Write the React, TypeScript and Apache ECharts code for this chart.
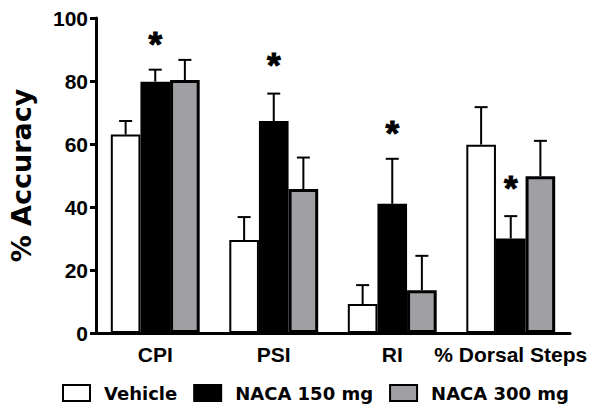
import React, { useEffect, useRef } from "react";
import * as echarts from "echarts";

const categories = ["CPI", "PSI", "RI", "% Dorsal Steps"];
const seriesNames = ["Vehicle", "NACA 150 mg", "NACA 300 mg"];
const vehicle = [63, 29.5, 9.2, 59.8];
const vehicleSem = [4.3, 7.3, 6.0, 11.9];
const naca150 = [79.8, 67.3, 41, 30];
const naca150Sem = [3.8, 8.7, 14.3, 7.1];
const naca300 = [80.3, 45.7, 13.6, 49.8];
const naca300Sem = [6.4, 10.0, 10.9, 11.2];
const starValues = [92, 85.3, 63.7, 46.3];
const yTicks = [0, 20, 40, 60, 80, 100];

const colors = ["#ffffff", "#000000", "#a0a0a4"];
const borderWidths = [2, 2, 3];

export default function App() {
  const ref = useRef<HTMLDivElement>(null);
  useEffect(() => {
    if (!ref.current) return;
    const chart = echarts.init(ref.current, null, { renderer: "svg" });
    const means = [vehicle, naca150, naca300];
    const sems = [vehicleSem, naca150Sem, naca300Sem];
    const barSeries = seriesNames.map((name, g) => ({
      name,
      type: "bar",
      data: means[g],
      barGap: "0%",
      barCategoryGap: "25%",
      itemStyle: { color: colors[g], borderColor: "#000", borderWidth: borderWidths[g] },
      z: 2,
    }));
    const errSeries = seriesNames.map((name, g) => ({
      type: "custom",
      name: name + " err",
      z: 3,
      data: means[g].map((m, i) => [i, m, m + sems[g][i]]),
      renderItem: (params: any, api: any) => {
        const band = api.size([1, 0])[0];
        const bw = (band * 0.75) / 3;
        const off = (g - 1) * bw;
        const p0 = api.coord([api.value(0), api.value(1)]);
        const p1 = api.coord([api.value(0), api.value(2)]);
        const x = p0[0] + off;
        const cap = 6.5;
        return {
          type: "group",
          children: [
            { type: "line", shape: { x1: x, y1: p0[1], x2: x, y2: p1[1] }, style: { stroke: "#000", lineWidth: 2 } },
            { type: "line", shape: { x1: x - cap, y1: p1[1], x2: x + cap, y2: p1[1] }, style: { stroke: "#000", lineWidth: 2 } },
          ],
        };
      },
    }));
    chart.setOption({
      animation: false,
      grid: { left: 93, right: 31, top: 18, bottom: 82 },
      legend: {
        data: seriesNames,
        left: 62,
        top: 384,
        padding: 0,
        itemWidth: 27,
        itemHeight: 16,
        itemGap: 16,
        icon: "rect",
        textStyle: {
          fontFamily: "DejaVu Sans",
          fontWeight: "bold",
          fontSize: 18,
          color: "#000",
          padding: [0, 0, 0, 9],
        },
      },
      xAxis: {
        type: "category",
        data: categories,
        axisLine: { lineStyle: { color: "#000", width: 3 } },
        axisTick: { alignWithLabel: true, length: 6, lineStyle: { color: "#000", width: 3 } },
        axisLabel: {
          color: "#000",
          fontFamily: "Liberation Sans",
          fontWeight: "bold",
          fontSize: 21,
          margin: 11,
          interval: 0,
          hideOverlap: false,
        },
      },
      yAxis: {
        type: "value",
        min: 0,
        max: 100,
        interval: 20,
        name: "% Accuracy",
        nameLocation: "middle",
        nameRotate: 90,
        nameGap: 61,
        nameTextStyle: {
          color: "#000",
          fontFamily: "DejaVu Sans",
          fontWeight: "bold",
          fontSize: 27,
        },
        axisLine: { show: true, lineStyle: { color: "#000", width: 3 } },
        axisTick: { show: true, length: 6, lineStyle: { color: "#000", width: 3 } },
        splitLine: { show: false },
        axisLabel: {
          color: "#000",
          fontFamily: "Liberation Sans",
          fontWeight: "bold",
          fontSize: 21,
          margin: 8,
          formatter: (v: number) => (yTicks.includes(v) ? String(v) : ""),
        },
      },
      series: [
        ...barSeries,
        ...errSeries,
        {
          type: "scatter",
          name: "stars",
          symbolSize: 0,
          z: 4,
          itemStyle: { opacity: 1, color: "#000" },
          data: starValues.map((v, i) => [i, v]),
          label: {
            show: true,
            position: "inside",
            formatter: "*",
            color: "#000",
            opacity: 1,
            textBorderColor: "#000",
            textBorderWidth: 1,
            fontFamily: "Liberation Sans",
            fontWeight: "bold",
            fontSize: 35,
          },
        },
      ],
    });
    return () => chart.dispose();
  }, []);
  return <div ref={ref} style={{ width: 601, height: 415, position: "absolute", left: 0, top: 0 }} />;
}
